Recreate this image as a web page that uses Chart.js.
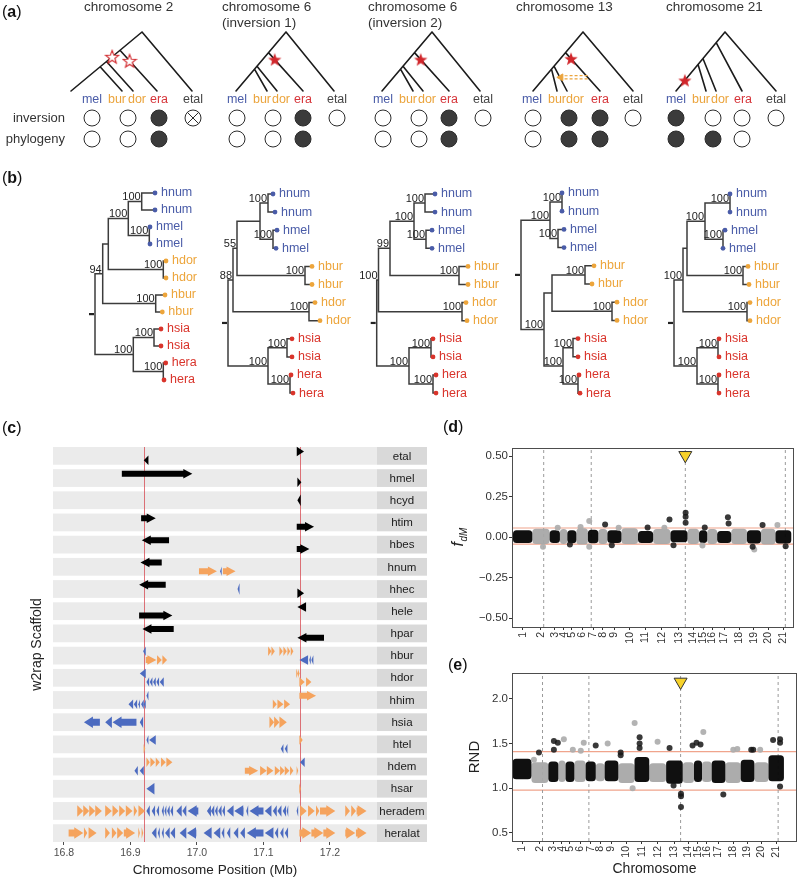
<!DOCTYPE html>
<html><head><meta charset="utf-8">
<script src="https://cdn.jsdelivr.net/npm/chart.js@4.4.1/dist/chart.umd.min.js"></script>
<style>
html,body{margin:0;padding:0;background:#fff}
body{width:798px;height:878px;position:relative;overflow:hidden;font-family:"Liberation Sans",Arial,Helvetica,sans-serif}
canvas{position:absolute;display:block}
.pl{position:absolute;font-size:16px;line-height:16px;color:#111;white-space:nowrap}
.pl b{font-weight:700}
</style></head><body>
<canvas id="cAB" width="798" height="436" style="left:0;top:0"></canvas>
<canvas id="cC" width="430" height="438" style="left:0;top:440px"></canvas>
<canvas id="cD" width="378" height="224" style="left:420px;top:436px"></canvas>
<canvas id="cE" width="378" height="218" style="left:420px;top:660px"></canvas>
<div class="pl" style="left:2px;top:4px">(<b>a</b>)</div>
<div class="pl" style="left:2px;top:170px">(<b>b</b>)</div>
<div class="pl" style="left:2px;top:420px">(<b>c</b>)</div>
<div class="pl" style="left:443px;top:419px">(<b>d</b>)</div>
<div class="pl" style="left:448px;top:657px">(<b>e</b>)</div>
<script>
// ================= DATA =================
// ---- (a) inversion schematics ----
const aTitles = [['chromosome 2'], ['chromosome 6','(inversion 1)'], ['chromosome 6','(inversion 2)'], ['chromosome 13'], ['chromosome 21']];
const aLeafNames = ['mel','bur','dor','era','etal'];
const aRowNames = ['inversion','phylogeny'];
const aInversion = [['o','o','f','x'], ['o','o','f','o'], ['o','o','f','o'], ['o','f','f','o'], ['f','o','o','o']];
const aPhylogeny = [['o','o','f'], ['o','o','f'], ['o','o','f'], ['o','f','f'], ['f','f','o']];
// attachment fractions (along root->mel line) of era, dor, bur branches
const aAttach = [[0.31,0.50,0.59],[0.35,0.58,0.63],[0.35,0.58,0.63],[0.35,0.58,0.63],[0.18,0.45,0.55]];
// stars: [branch, fraction along branch, hollow]
const aStars = [[['mel',0.42,true],['era',0.26,true]], [['era',0.18,false]], [['era',0.18,false]], [['era',0.16,false]], [['mel',0.82,false]]];
const aIntrogression = [null, null, null, {from:['era',0.64], to:['dor',0.45]}, null];

// ---- (b) phylogenies: internal = [depth, support, child, child]; tip = [depth, name] ----
const bTrees = [
 [0,null,
  [7.7,'94',
   [13.3,null,
    [33.3,'100',
     [46.7,'100',[60,'hnum'],[60,'hnum']],
     [54.3,'100',[55,'hmel'],[55,'hmel']]],
    [68.3,'100',[71,'hdor'],[71,'hdor']]],
   [60.7,'100',[70,'hbur'],[67.3,'hbur']]],
  [38.3,'100',
   [59,'100',[66,'hsia'],[66,'hsia']],
   [68.3,'100',[70.7,'hera'],[69,'hera']]]],
 [0,null,
  [5,'88',
   [9,'55',
    [32,null,
     [40,'100',[45,'hnum'],[47,'hnum']],
     [45,'100',[49,'hmel'],[48,'hmel']]],
    [77,'100',[84,'hbur'],[84,'hbur']]],
   [81,'100',[87,'hdor'],[92,'hdor']]],
  [40,'100',
   [59,'100',[64,'hsia'],[64,'hsia']],
   [62,'100',[63,'hera'],[65,'hera']]]],
 [0,null,
  [1.8,'100',
   [13.3,'99',
    [37.3,'100',
     [48.3,'100',[58.3,'hnum'],[58.3,'hnum']],
     [49.3,'100',[55.3,'hmel'],[55.3,'hmel']]],
    [82.3,'100',[91.3,'hbur'],[91.3,'hbur']]],
   [85.3,'100',[89.3,'hdor'],[90.3,'hdor']]],
  [32.3,'100',
   [54.3,'100',[56.3,'hsia'],[56.3,'hsia']],
   [56.3,'100',[59.3,'hera'],[59.3,'hera']]]],
 [0,null,
  [29,'100',
   [41,'100',[41,'hnum'],[41,'hnum']],
   [37,'100',[43,'hmel'],[43,'hmel']]],
  [23,'100',
   [31,null,
    [64,'100',[73,'hbur'],[71,'hbur']],
    [91,'100',[96,'hdor'],[96,'hdor']]],
   [42,'100',
    [52,'100',[57,'hsia'],[57,'hsia']],
    [57,'100',[58,'hera'],[59,'hera']]]]],
 [0,null,
  [9,'100',
   [13,null,
    [31,'100',
     [56,'100',[56,'hnum'],[56,'hnum']],
     [49,'100',[51,'hmel'],[49,'hmel']]],
    [69,'100',[74,'hbur'],[75,'hbur']]],
   [73,'100',[76,'hdor'],[76,'hdor']]],
  [23,'100',
   [44,'100',[45,'hsia'],[45,'hsia']],
   [44,'100',[45,'hera'],[45,'hera']]]]
];

// ---- (c) gene models ----
const cRows = ['etal','hmel','hcyd','htim','hbes','hnum','hhec','hele','hpar','hbur','hdor','hhim','hsia','htel','hdem','hsar','heradem','heralat'];
const cTicks = [16.8, 16.9, 17.0, 17.1, 17.2];
const cBreaks = [16.921, 17.155];
// [row, start Mb, end Mb, strand, group(k/o/b), lane(-1 upper,0 mid,1 lower)]
const cGenes = [
 [0,16.920,16.927,-1,'k',1],[0,17.150,17.161,1,'k',-1],
 [1,16.887,16.993,1,'k',-1],[1,17.151,17.157,1,'k',1],
 [2,17.151,17.156,-1,'k',0],
 [3,16.916,16.938,1,'k',-1],[3,17.150,17.176,1,'k',1],
 [4,16.917,16.958,-1,'k',-1],[4,17.150,17.169,1,'k',1],
 [5,16.915,16.947,-1,'k',-1],[5,17.003,17.030,1,'o',1],[5,17.035,17.037,-1,'b',1],[5,17.039,17.058,1,'o',1],
 [6,16.913,16.953,-1,'k',-1],[6,17.061,17.064,-1,'b',0],[6,17.151,17.161,1,'k',1],
 [7,16.913,16.963,1,'k',1],[7,17.151,17.164,-1,'k',-1],
 [8,16.918,16.965,-1,'k',-1],[8,17.151,17.191,-1,'k',1],
 [9,16.919,16.923,-1,'b',-1],[9,16.923,16.939,1,'o',1],[9,16.940,16.947,1,'o',1],[9,16.948,16.955,1,'o',1],
 [9,17.107,17.112,1,'o',-1],[9,17.112,17.117,1,'o',-1],[9,17.124,17.129,1,'o',-1],[9,17.130,17.135,1,'o',-1],[9,17.136,17.140,1,'o',-1],[9,17.141,17.145,1,'o',-1],
 [9,17.154,17.167,-1,'b',1],[9,17.169,17.171,-1,'b',1],[9,17.172,17.175,-1,'b',1],
 [10,16.914,16.923,-1,'b',-1],[10,16.924,16.928,-1,'b',1],[10,16.929,16.933,-1,'b',1],[10,16.934,16.938,-1,'b',1],[10,16.939,16.943,-1,'b',1],[10,16.944,16.950,-1,'b',1],
 [10,17.150,17.151,1,'o',-1],[10,17.152,17.154,1,'o',-1],[10,17.154,17.162,1,'o',1],[10,17.164,17.172,1,'o',1],
 [11,16.897,16.904,-1,'b',1],[11,16.905,16.910,-1,'b',1],[11,16.912,16.914,-1,'b',1],[11,16.916,16.920,-1,'b',1],[11,16.920,16.923,-1,'b',1],[11,16.924,16.927,-1,'b',-1],
 [11,17.114,17.120,1,'o',1],[11,17.121,17.130,1,'o',1],[11,17.131,17.140,1,'o',1],[11,17.154,17.179,1,'o',-1],
 [12,16.830,16.854,-1,'b',0],[12,16.862,16.872,-1,'b',0],[12,16.873,16.909,-1,'b',0],[12,16.914,16.919,-1,'b',0],
 [12,17.109,17.116,1,'o',0],[12,17.116,17.124,1,'o',0],[12,17.124,17.135,1,'o',0],
 [13,16.920,16.922,1,'o',1],[13,16.924,16.927,-1,'b',-1],[13,16.928,16.938,-1,'b',-1],[13,17.126,17.130,-1,'b',1],[13,17.132,17.136,-1,'b',1],[13,17.154,17.159,1,'o',-1],
 [14,16.906,16.911,-1,'b',1],[14,16.914,16.920,-1,'b',1],
 [14,16.924,16.929,1,'o',-1],[14,16.930,16.937,1,'o',-1],[14,16.938,16.944,1,'o',-1],[14,16.946,16.953,1,'o',-1],[14,16.954,16.963,1,'o',-1],
 [14,17.072,17.092,1,'o',1],[14,17.095,17.105,1,'o',1],[14,17.105,17.115,1,'o',1],[14,17.117,17.125,1,'o',1],[14,17.125,17.132,1,'o',1],[14,17.132,17.139,1,'o',1],[14,17.140,17.145,1,'o',1],[14,17.150,17.152,1,'o',1],
 [14,17.155,17.162,-1,'b',-1],
 [15,16.924,16.936,-1,'b',0],[15,17.154,17.156,1,'o',0],
 [16,16.820,16.829,1,'o',0],[16,16.829,16.838,1,'o',0],[16,16.838,16.847,1,'o',0],[16,16.847,16.857,1,'o',0],[16,16.862,16.872,1,'o',0],[16,16.873,16.882,1,'o',0],[16,16.883,16.892,1,'o',0],[16,16.893,16.903,1,'o',0],[16,16.905,16.910,1,'o',0],[16,16.912,16.922,1,'o',0],
 [16,16.924,16.929,-1,'b',0],[16,16.932,16.937,-1,'b',0],[16,16.939,16.943,-1,'b',0],[16,16.947,16.950,-1,'b',0],[16,16.951,16.954,-1,'b',0],[16,16.955,16.959,-1,'b',0],[16,16.960,16.964,-1,'b',0],[16,16.969,16.977,-1,'b',0],[16,16.978,16.984,-1,'b',0],[16,16.986,17.002,-1,'b',0],
 [16,17.015,17.021,-1,'b',0],[16,17.021,17.026,-1,'b',0],[16,17.027,17.031,-1,'b',0],[16,17.032,17.037,-1,'b',0],[16,17.038,17.042,-1,'b',0],[16,17.045,17.055,-1,'b',0],[16,17.056,17.070,-1,'b',0],[16,17.074,17.077,-1,'b',0],[16,17.079,17.100,-1,'b',0],[16,17.102,17.112,-1,'b',0],[16,17.114,17.120,-1,'b',0],[16,17.121,17.127,-1,'b',0],[16,17.129,17.134,-1,'b',0],[16,17.135,17.137,-1,'b',0],[16,17.150,17.152,-1,'b',0],
 [16,17.155,17.165,1,'o',0],[16,17.167,17.177,1,'o',0],[16,17.179,17.184,1,'o',0],[16,17.185,17.208,1,'o',0],[16,17.223,17.230,1,'o',0],[16,17.232,17.239,1,'o',0],[16,17.240,17.255,1,'o',0],
 [17,16.807,16.829,1,'o',0],[17,16.830,16.835,1,'o',0],[17,16.837,16.849,1,'o',0],[17,16.862,16.869,1,'o',0],[17,16.872,16.879,1,'o',0],[17,16.880,16.889,1,'o',0],[17,16.890,16.907,1,'o',0],[17,16.912,16.914,1,'o',0],[17,16.917,16.919,1,'o',0],
 [17,16.932,16.939,-1,'b',0],[17,16.941,16.944,-1,'b',0],[17,16.947,16.950,-1,'b',0],[17,16.952,16.959,-1,'b',0],[17,16.960,16.967,-1,'b',0],[17,16.974,16.984,-1,'b',0],[17,16.985,16.999,-1,'b',0],[17,17.010,17.022,-1,'b',0],[17,17.025,17.035,-1,'b',0],[17,17.037,17.041,-1,'b',0],[17,17.045,17.050,-1,'b',0],[17,17.055,17.062,-1,'b',0],[17,17.065,17.072,-1,'b',0],[17,17.075,17.100,-1,'b',0],[17,17.102,17.115,-1,'b',0],[17,17.117,17.122,-1,'b',0],[17,17.125,17.130,-1,'b',0],[17,17.132,17.137,-1,'b',0],
 [17,17.154,17.172,1,'o',0],[17,17.172,17.190,1,'o',0],[17,17.190,17.208,1,'o',0],[17,17.223,17.238,1,'o',0],[17,17.239,17.255,1,'o',0]
];

// ---- (d),(e) genome scans ----
const chrNames = ['1','2','3','4','5','6','7','8','9','10','11','12','13','14','15','16','17','18','19','20','21'];
const chrStart = [1.3,26.7,49.4,62.9,72.6,84.5,99.6,113.3,125.2,143.7,165.4,185.3,208.0,230.4,245.5,256.3,269.3,287.8,308.4,326.8,345.8];
const chrEnd   = [26.7,49.4,62.9,72.6,84.5,99.6,113.3,125.2,143.7,165.4,185.3,208.0,230.4,245.5,256.3,269.3,287.8,308.4,326.8,345.8,366.6];
const inversionPos = [41.6, 104.0, 227.5, 358.8];
const focalPos = 227.5;
const fdmLow  = [-0.036,-0.042,-0.036,-0.042,-0.038,-0.045,-0.038,-0.042,-0.036,-0.042,-0.036,-0.042,-0.032,-0.042,-0.036,-0.042,-0.036,-0.042,-0.040,-0.045,-0.040];
const fdmHigh = [0.042,0.052,0.042,0.050,0.042,0.054,0.046,0.050,0.042,0.054,0.038,0.050,0.042,0.052,0.042,0.050,0.038,0.052,0.042,0.052,0.042];
const fdmThresh = [-0.043, 0.056];
const fdmLight = [{x:101.4,y:0.099},{x:40.7,y:-0.060},{x:101.4,y:-0.060},{x:348.4,y:0.074},{x:318,y:-0.076},{x:140,y:0.058},{x:60,y:0.058},{x:200,y:0.058},{x:250,y:-0.052},{x:90,y:0.062}];
const fdmDark = [{x:122.2,y:0.078},{x:206.7,y:0.109},{x:227.9,y:0.150},{x:227.9,y:0.125},{x:227.9,y:0.088},{x:253,y:0.060},{x:283.4,y:0.122},{x:284.3,y:0.084},{x:328.9,y:0.074},{x:315.9,y:-0.060},{x:359.2,y:-0.056},{x:178,y:0.060},{x:131,y:-0.050},{x:212,y:-0.050},{x:76,y:-0.045}];
const rndLow  = [1.10,1.06,1.07,1.07,1.07,1.07,1.08,1.08,1.08,1.06,1.07,1.07,1.05,1.06,1.07,1.07,1.06,1.06,1.07,1.07,1.08];
const rndHigh = [1.33,1.29,1.30,1.31,1.30,1.31,1.30,1.28,1.31,1.28,1.35,1.28,1.31,1.29,1.31,1.30,1.31,1.29,1.32,1.29,1.37];
const rndThresh = [0.98, 1.41];
const rndLight = [{x:70.3,y:1.55},{x:97.1,y:1.51},{x:129.3,y:1.50},{x:165.6,y:1.73},{x:196.5,y:1.52},{x:258.1,y:1.63},{x:298.4,y:1.43},{x:162.9,y:1.00},{x:82.4,y:1.43},{x:93.1,y:1.42},{x:334.6,y:1.43},{x:303.8,y:1.44},{x:30,y:1.32}];
const rndDark = [{x:36.8,y:1.40},{x:56.9,y:1.53},{x:62.2,y:1.51},{x:56.9,y:1.43},{x:113.2,y:1.48},{x:146.8,y:1.40},{x:146.8,y:1.37},{x:172.3,y:1.57},{x:172.3,y:1.50},{x:172.3,y:1.45},{x:212.6,y:1.45},{x:218,y:1.03},{x:228,y:0.94},{x:228,y:0.91},{x:228,y:0.79},{x:243.6,y:1.48},{x:248.9,y:1.51},{x:254.3,y:1.49},{x:285,y:0.93},{x:322.6,y:1.43},{x:325.3,y:1.43},{x:352,y:1.54},{x:361.4,y:1.55},{x:361.4,y:1.51},{x:361.4,y:1.02}];

// ================= LAYOUT / STYLE =================
const FONT = '"Liberation Sans", Arial, Helvetica, sans-serif';
Chart.defaults.font.family = FONT;
Chart.defaults.color = '#333';
Chart.defaults.animation = false;
Chart.defaults.events = [];
Chart.defaults.plugins.legend.display = false;
Chart.defaults.plugins.tooltip.enabled = false;

const COL = {mel:'#4a5ca8', bur:'#eba43c', dor:'#eba43c', era:'#d6353a', etal:'#444'};
const TIPCOL = {hnum:'#4a5ca8', hmel:'#4a5ca8', hbur:'#eda53b', hdor:'#eda53b', hsia:'#d9342b', hera:'#d9342b'};
const GENECOL = {k:'#000000', o:'#f5a35d', b:'#4c6bc0'};

const aLayout = [
 {apex:[142,32], leaf:[71,122,133,157,192], lab:[92,117,137,159,193], circ:[92,128,159,193], tx:84},
 {apex:[286,32], leaf:[236,267,277,303,334], lab:[237,262,281,303,337], circ:[237,273,303,337], tx:222},
 {apex:[432,32], leaf:[382,413,423,449,480], lab:[383,408,427,449,483], circ:[383,419,449,483], tx:368},
 {apex:[583,32], leaf:[533,557,567,600,633], lab:[532,557,575,600,633], circ:[533,569,600,633], tx:516},
 {apex:[725,32], leaf:[676,706,716,742,776], lab:[676,701,720,743,776], circ:[676,713,742,776], tx:666}
];
const aBase = 91, aLabY = 100, aRowY = [118, 139];
const bRootX = [95, 228, 376.7, 521, 674], bTopY = [193, 194, 194, 193, 194], bStep = [17, 18.1, 18.1, 18.2, 18.1];

function txt(ctx, s, x, y, font, color, align, base) {
  ctx.font = font; ctx.fillStyle = color; ctx.textAlign = align || 'center'; ctx.textBaseline = base || 'middle'; ctx.fillText(s, x, y);
}
const segData = segs => segs.flatMap(s => [{x:s[0],y:s[1]},{x:s[2],y:s[3]},{x:null,y:null}]);
const lerp = (a,b,t) => [a[0]+(b[0]-a[0])*t, a[1]+(b[1]-a[1])*t];

function cladeGeom(L, att) {
  const apex = L.apex, leafPt = k => [L.leaf[k], aBase];
  const P = s => lerp(apex, leafPt(0), s);
  const br = {
    mel:[apex, leafPt(0)], etal:[apex, leafPt(4)],
    era:[P(att[0]), leafPt(3)], dor:[P(att[1]), leafPt(2)], bur:[P(att[2]), leafPt(1)]
  };
  const segs = ['mel','etal','era','dor','bur'].map(k => [...br[k][0], ...br[k][1]]);
  return {segs, br};
}
function layoutTree(tree, rootX, topY, dy) {
  let k = 0; const segs = [], tips = [], labels = [];
  function rec(n) {
    if (n.length === 2) { const p = {x: rootX + n[0], y: topY + dy * k++}; tips.push({...p, name: n[1]}); return p; }
    const x = rootX + n[0];
    const kids = n.slice(2).map(rec);
    const y = (kids[0].y + kids[kids.length-1].y) / 2;
    segs.push([x, kids[0].y, x, kids[kids.length-1].y]);
    kids.forEach(c => segs.push([x, c.y, c.x, c.y]));
    if (n[1]) labels.push({x, y, t: n[1]});
    return {x, y};
  }
  const root = rec(tree);
  return {segs, tips, labels, root};
}
function starImg(filled) {
  const c = document.createElement('canvas'); c.width = 16; c.height = 16;
  const g = c.getContext('2d');
  g.beginPath();
  for (let i = 0; i < 10; i++) { const r = i % 2 ? 2.9 : 7; const a = -Math.PI/2 + i*Math.PI/5; g.lineTo(8 + r*Math.cos(a), 8.6 + r*Math.sin(a)); }
  g.closePath();
  if (filled) { g.fillStyle = '#d1262b'; g.fill(); }
  else { g.fillStyle = '#fff'; g.fill(); g.strokeStyle = '#d1262b'; g.lineWidth = 1.1; g.stroke(); }
  return c;
}

// ================= CHART (a)+(b) =================
const abSets = [];
const geoms = aLayout.map((L,i) => cladeGeom(L, aAttach[i]));
geoms.forEach(g => abSets.push({data: segData(g.segs), showLine:true, borderColor:'#1c1c1c', borderWidth:1.6, pointRadius:0, borderCapStyle:'round', order:4}));
aIntrogression.forEach((ig, i) => {
  if (!ig) return;
  const b = geoms[i].br;
  const f = lerp(b[ig.from[0]][0], b[ig.from[0]][1], ig.from[1]);
  const t = lerp(b[ig.to[0]][0], b[ig.to[0]][1], ig.to[1]);
  abSets.push({data: segData([[f[0], f[1]-1.6, t[0]+3, t[1]-1.6],[f[0], f[1]+1.6, t[0]+3, t[1]+1.6]]), showLine:true, borderColor:'#eba43c', borderWidth:1.2, borderDash:[3,2], pointRadius:0, order:2});
  abSets.push({data:[{x:t[0]+1, y:t[1]}], pointStyle:'triangle', rotation:270, pointRadius:4, backgroundColor:'#eba43c', borderColor:'#eba43c', borderWidth:1, order:1});
});
const circPts = [], circCols = [], crossPts = [];
aLayout.forEach((L,i) => {
  [aInversion[i], aPhylogeny[i]].forEach((row, r) => row.forEach((s, j) => {
    circPts.push({x: L.circ[j], y: aRowY[r]});
    circCols.push(s === 'f' ? '#3b3b3b' : '#ffffff');
    if (s === 'x') crossPts.push({x: L.circ[j], y: aRowY[r]});
  }));
});
abSets.push({data: circPts, pointRadius:8, pointBackgroundColor: circCols, pointBorderColor:'#2b2b2b', pointBorderWidth:1, order:2});
abSets.push({data: crossPts, pointStyle:'crossRot', pointRadius:8, pointBorderColor:'#2b2b2b', pointBorderWidth:1, order:1});
const starPts = [], starStyles = [];
const STAR_F = starImg(true), STAR_H = starImg(false);
aStars.forEach((list, i) => list.forEach(s => {
  const b = geoms[i].br[s[0]]; const p = lerp(b[0], b[1], s[1]);
  starPts.push({x:p[0], y:p[1]}); starStyles.push(s[2] ? STAR_H : STAR_F);
}));
abSets.push({data: starPts, pointStyle: starStyles, pointRadius:7, order:1});
const bLayouts = bTrees.map((t,i) => layoutTree(t, bRootX[i], bTopY[i], bStep[i]));
bLayouts.forEach(L => {
  abSets.push({data: segData(L.segs), showLine:true, borderColor:'#3c3c3c', borderWidth:1.5, pointRadius:0, borderCapStyle:'square', order:4});
  abSets.push({data: segData([[L.root.x-6, L.root.y, L.root.x-1, L.root.y]]), showLine:true, borderColor:'#222', borderWidth:2.2, pointRadius:0, order:4});
  abSets.push({data: L.tips.map(t => ({x:t.x, y:t.y})), pointRadius:2.4, pointBackgroundColor: L.tips.map(t => TIPCOL[t.name]), pointBorderWidth:0, order:1});
});

const abText = {
  id:'abText',
  afterDatasetsDraw(chart) {
    const ctx = chart.ctx, sx = v => chart.scales.x.getPixelForValue(v), sy = v => chart.scales.y.getPixelForValue(v);
    ctx.save();
    aLayout.forEach((L,i) => {
      aTitles[i].forEach((t, k) => txt(ctx, t, sx(L.tx), sy(7 + 16*k), '13.5px ' + FONT, '#333', 'left'));
      aLeafNames.forEach((n, j) => txt(ctx, n, sx(L.lab[j]), sy(aLabY), '12.5px ' + FONT, COL[n]));
    });
    aRowNames.forEach((n, r) => txt(ctx, n, sx(65), sy(aRowY[r]), '13px ' + FONT, '#333', 'right'));
    bLayouts.forEach(L => {
      L.labels.forEach(l => txt(ctx, l.t, sx(l.x - 1), sy(l.y - 1.2), '11px ' + FONT, '#222', 'right', 'alphabetic'));
      L.tips.forEach(t => txt(ctx, t.name, sx(t.x + 6), sy(t.y), '12.5px ' + FONT, TIPCOL[t.name], 'left'));
    });
    ctx.restore();
  }
};
new Chart(document.getElementById('cAB'), {
  type:'scatter',
  data:{datasets: abSets},
  options:{responsive:false, devicePixelRatio:1, layout:{padding:0, autoPadding:false},
    scales:{x:{type:'linear', min:0, max:798, display:false}, y:{type:'linear', min:0, max:436, reverse:true, display:false}}},
  plugins:[abText]
});

// ================= CHART (c) =================
function geneArrow(ctx, x1, x2, yc, strand, bodyH, headH, headL) {
  if (x2 - x1 < 1.6) { const m = (x1+x2)/2; x1 = m - 0.8; x2 = m + 0.8; }
  const hl = Math.min(headL, x2 - x1);
  ctx.beginPath();
  if (strand > 0) {
    const xb = x2 - hl;
    ctx.moveTo(x1, yc-bodyH/2); ctx.lineTo(xb, yc-bodyH/2); ctx.lineTo(xb, yc-headH/2); ctx.lineTo(x2, yc);
    ctx.lineTo(xb, yc+headH/2); ctx.lineTo(xb, yc+bodyH/2); ctx.lineTo(x1, yc+bodyH/2);
  } else {
    const xb = x1 + hl;
    ctx.moveTo(x2, yc-bodyH/2); ctx.lineTo(xb, yc-bodyH/2); ctx.lineTo(xb, yc-headH/2); ctx.lineTo(x1, yc);
    ctx.lineTo(xb, yc+headH/2); ctx.lineTo(xb, yc+bodyH/2); ctx.lineTo(x2, yc+bodyH/2);
  }
  ctx.closePath(); ctx.fill();
}
const genePlugin = {
  id:'genes',
  beforeDatasetsDraw(chart) {
    const {ctx, chartArea:ca} = chart, x = chart.scales.x, y = chart.scales.y;
    ctx.save();
    cRows.forEach((name, i) => {
      const t = y.getPixelForValue(i + 0.1), b = y.getPixelForValue(i + 0.9);
      ctx.fillStyle = '#ebebeb'; ctx.fillRect(ca.left, t, ca.right - ca.left, b - t);
      ctx.fillStyle = '#d9d9d9'; ctx.fillRect(ca.right, t, 50, b - t);
      txt(ctx, name, ca.right + 25, (t + b) / 2 + 0.5, '11.5px ' + FONT, '#1a1a1a');
    });
    ctx.strokeStyle = 'rgba(214,70,78,0.75)'; ctx.lineWidth = 1;
    cBreaks.forEach(v => { const p = Math.round(x.getPixelForValue(v)) + 0.5; ctx.beginPath(); ctx.moveTo(p, ca.top); ctx.lineTo(p, ca.bottom); ctx.stroke(); });
    cGenes.forEach(g => {
      const yc = y.getPixelForValue(g[0] + 0.5) + g[5] * 4.3;
      const big = g[5] === 0;
      ctx.fillStyle = GENECOL[g[4]];
      geneArrow(ctx, x.getPixelForValue(g[1]), x.getPixelForValue(g[2]), yc, g[3], big ? 7 : 6, big ? 11.5 : 9.5, 9);
    });
    ctx.restore();
  }
};
new Chart(document.getElementById('cC'), {
  type:'scatter',
  data:{datasets:[]},
  options:{responsive:false, devicePixelRatio:1,
    layout:{padding:{left:25, right:53, top:7, bottom:0}, autoPadding:false},
    scales:{
      x:{type:'linear', min:16.7835, max:17.2707,
         afterBuildTicks: ax => { ax.ticks = cTicks.map(v => ({value:v})); },
         ticks:{callback: v => v.toFixed(1), font:{size:10.5}, color:'#4d4d4d', padding:2, maxRotation:0, autoSkip:false},
         grid:{display:true, drawOnChartArea:false, drawTicks:true, tickLength:3, color:'#4d4d4d'},
         border:{display:false},
         title:{display:true, text:'Chromosome Position (Mb)', font:{size:13.5}, color:'#222', padding:{top:2, bottom:0}},
         afterFit: ax => { ax.height = 36; }},
      y:{type:'linear', min:0.1, max:17.9, reverse:true,
         ticks:{display:false}, grid:{display:false}, border:{display:false},
         title:{display:true, text:'w2rap Scaffold', font:{size:14}, color:'#222', padding:{top:4, bottom:0}},
         afterFit: ax => { ax.width = 28; }}
    }},
  plugins:[genePlugin]
});

// ================= CHARTS (d),(e) =================
const chrCenters = chrStart.map((s,i) => (s + chrEnd[i]) / 2);
function manhattan(id, o) {
  const cloudPlugin = {
    id:'clouds',
    beforeDatasetDraw(chart, args) {
      if (args.meta._dataset.label !== 'light') return;
      const {ctx} = chart, x = chart.scales.x, y = chart.scales.y;
      ctx.save();
      [1, 0].forEach(par => chrNames.forEach((n, i) => {
        if (i % 2 !== par) return;
        const x1 = x.getPixelForValue(chrStart[i]), x2 = x.getPixelForValue(chrEnd[i]);
        const y1 = y.getPixelForValue(o.hi[i]), y2 = y.getPixelForValue(o.lo[i]);
        ctx.fillStyle = i % 2 === 0 ? 'rgba(8,8,8,0.97)' : 'rgba(168,168,168,0.95)';
        ctx.beginPath(); ctx.roundRect(x1, y1, x2 - x1, y2 - y1, 3.5); ctx.fill();
      }));
      ctx.restore();
    },
    afterDraw(chart) {
      const {ctx, chartArea:ca} = chart;
      ctx.save(); ctx.strokeStyle = '#4d4d4d'; ctx.lineWidth = 1;
      ctx.strokeRect(Math.round(ca.left) + 0.5, Math.round(ca.top) + 0.5, Math.round(ca.right - ca.left) - 1, Math.round(ca.bottom - ca.top));
      if (o.fdm) {
        const cy = (ca.top + ca.bottom) / 2;
        ctx.translate(38, cy); ctx.rotate(-Math.PI / 2);
        ctx.fillStyle = '#222'; ctx.textBaseline = 'alphabetic'; ctx.textAlign = 'left';
        ctx.font = 'italic 16px ' + FONT; ctx.fillText('f', -9, 5);
        ctx.font = 'italic 10px ' + FONT; ctx.fillText('dM', -4, 9);
      }
      ctx.restore();
    }
  };
  const ds = [
    {data: segData(o.thresh.map(t => [o.xmin, t, o.xmax, t])), showLine:true, borderColor:'#f0a48c', borderWidth:1.2, pointRadius:0, order:6},
    {data: segData(inversionPos.map(p => [p, o.ymin, p, o.ymax])), showLine:true, borderColor:'#9a9a9a', borderWidth:1, borderDash:[3,3], pointRadius:0, order:5},
    {label:'light', data: o.light, pointRadius:3, pointBackgroundColor:'rgba(172,172,172,0.92)', pointBorderWidth:0, order:3},
    {data: o.dark, pointRadius:3, pointBackgroundColor:'rgba(22,22,22,0.85)', pointBorderWidth:0, order:2},
    {data: [{x: focalPos, y: o.triY}], pointStyle:'triangle', rotation:180, pointRadius:7.5, pointBackgroundColor:'#f7d22a', pointBorderColor:'#333', pointBorderWidth:1, clip:false, order:1}
  ];
  new Chart(document.getElementById(id), {
    type:'scatter',
    data:{datasets: ds},
    options:{responsive:false, devicePixelRatio:1,
      layout:{padding: o.pad, autoPadding:false},
      scales:{
        x:{type:'linear', min:o.xmin, max:o.xmax,
           afterBuildTicks: ax => { ax.ticks = chrCenters.map(v => ({value:v})); },
           ticks:{callback: (v,i) => chrNames[i], autoSkip:false, minRotation:90, maxRotation:90, font:{size:10.5}, color:'#333', padding:2},
           grid:{display:true, drawOnChartArea:false, drawTicks:true, tickLength:3, color:'#333'},
           border:{display:false},
           title: o.xtitle ? {display:true, text:o.xtitle, font:{size:14}, color:'#222', padding:{top:0, bottom:0}} : {display:false},
           afterFit: ax => { ax.height = o.xh; }},
        y:{type:'linear', min:o.ymin, max:o.ymax,
           afterBuildTicks: ax => { ax.ticks = o.yticks.map(v => ({value:v})); },
           ticks:{callback: v => (v < 0 ? '\u2212' : '') + Math.abs(v).toFixed(o.dec), font:{size:11.5}, color:'#333', padding:1},
           grid:{display:true, drawOnChartArea:false, drawTicks:true, tickLength:3, color:'#333'},
           border:{display:false},
           title: o.ytitle ? {display:true, text:o.ytitle, font:{size:15}, color:'#222', padding:{top:4, bottom:0}} : {display:false},
           afterFit: ax => { ax.width = o.yw; }}
      }},
    plugins:[cloudPlugin]
  });
}
manhattan('cD', {xmin:0, xmax:370.5, ymin:-0.555, ymax:0.55, yticks:[-0.5,-0.25,0,0.25,0.5], dec:2,
  lo:fdmLow, hi:fdmHigh, thresh:fdmThresh, light:fdmLight, dark:fdmDark, triY:0.505,
  pad:{left:0, right:1, top:12, bottom:0}, yw:92, xh:33, fdm:true});
manhattan('cE', {xmin:0.5, xmax:384.2, ymin:0.41, ymax:2.29, yticks:[0.5,1.0,1.5,2.0], dec:1,
  lo:rndLow, hi:rndHigh, thresh:rndThresh, light:rndLight, dark:rndDark, triY:2.19,
  pad:{left:42, right:1, top:13, bottom:0}, yw:50, xh:37, ytitle:'RND', xtitle:'Chromosome'});
</script>
</body></html>
